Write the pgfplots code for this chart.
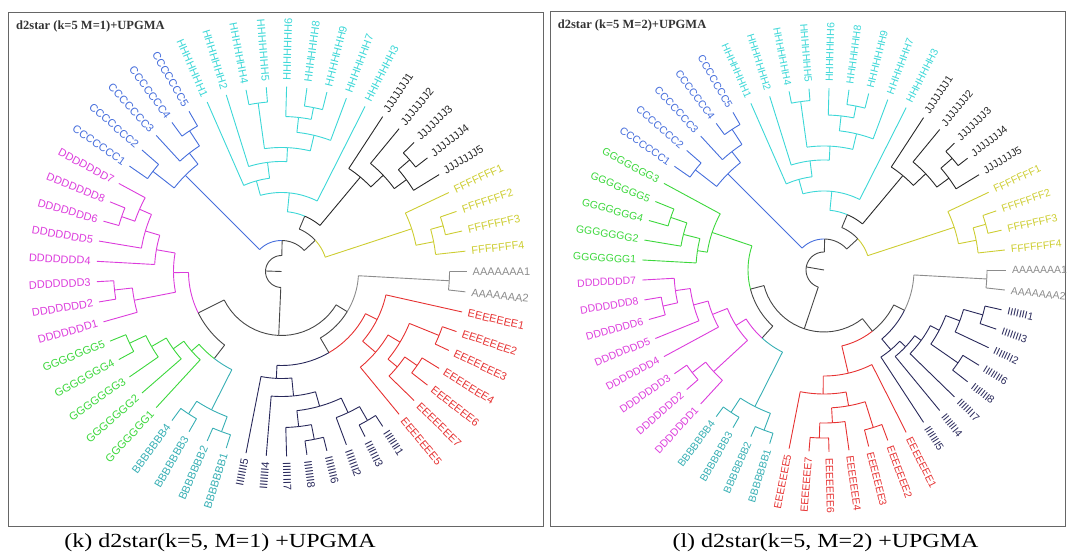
\documentclass[border=0pt]{standalone}
\usepackage{pgfplots}
\pgfplotsset{compat=1.18}
\usetikzlibrary{calc}
\usepackage{fontspec}
\setmainfont{Liberation Serif}
\newfontfamily\sansf{Liberation Sans}
\definecolor{cK}{RGB}{70,70,70}
\definecolor{cA}{RGB}{140,140,140}
\definecolor{cB}{RGB}{55,175,180}
\definecolor{cC}{RGB}{70,110,220}
\definecolor{cD}{RGB}{220,60,220}
\definecolor{cE}{RGB}{230,50,50}
\definecolor{cF}{RGB}{205,205,50}
\definecolor{cG}{RGB}{60,215,60}
\definecolor{cH}{RGB}{60,215,215}
\definecolor{cI}{RGB}{40,40,90}
\definecolor{cJ}{RGB}{40,40,40}
% branch: colour, child angle, node angle, node radius, child radius
\newcommand\br[5]{%
  \pgfmathsetmacro\amin{min(#2,#3)}%
  \pgfmathsetmacro\amax{max(#2,#3)}%
  \edef\tmp{\noexpand\addplot[#1,domain=\amin:\amax,samples=12] {#4};
    \noexpand\addplot[#1] coordinates {(#2,#4) (#2,#5)};}%
  \tmp}
% label: origin, angle, colour, text
\newcommand\lb[4]{%
  \pgfmathtruncatemacro\flip{(#2>90)&&(#2<270)}%
  \ifnum\flip=1
    \node[text=#3,rotate=#2-180,anchor=east,inner sep=0pt,font=\labfont] at ($(#1)+(#2:\LR pt)$) {#4};
  \else
    \node[text=#3,rotate=#2,anchor=west,inner sep=0pt,font=\labfont] at ($(#1)+(#2:\LR pt)$) {#4};
  \fi}
\newcommand\topsub{%
\br{cC}{135.0}{88.847}{31}{136}
\br{cK}{42.694}{88.847}{31}{46}
\br{cC}{142.105}{135.0}{136}{163}
\br{cC}{127.895}{135.0}{136}{150}
\br{cC}{145.263}{142.105}{163}{\RR}
\br{cC}{138.947}{142.105}{163}{\RR}
\br{cC}{132.632}{127.895}{150}{\RR}
\br{cC}{123.158}{127.895}{150}{168}
\br{cC}{126.316}{123.158}{168}{\RR}
\br{cC}{120.0}{123.158}{168}{\RR}
\br{cK}{67.229}{42.694}{46}{60}
\br{cF}{18.158}{42.694}{46}{137}
\br{cH}{84.326}{67.229}{60}{79}
\br{cJ}{50.132}{67.229}{60}{123}
\br{cH}{105.493}{84.326}{79}{94}
\br{cH}{63.158}{84.326}{79}{\RR}
\br{cH}{113.684}{105.493}{94}{\RR}
\br{cH}{97.303}{105.493}{94}{110}
\br{cH}{107.368}{97.303}{110}{\RR}
\br{cH}{87.237}{97.303}{110}{124}
\br{cH}{97.895}{87.237}{124}{170}
\br{cH}{76.579}{87.237}{124}{140}
\br{cH}{101.053}{97.895}{170}{\RR}
\br{cH}{94.737}{97.895}{170}{\RR}
\br{cH}{83.684}{76.579}{140}{155}
\br{cH}{69.474}{76.579}{140}{\RR}
\br{cH}{88.421}{83.684}{155}{\RR}
\br{cH}{78.947}{83.684}{155}{167}
\br{cH}{82.105}{78.947}{167}{\RR}
\br{cH}{75.789}{78.947}{167}{\RR}
\br{cJ}{56.842}{50.132}{123}{\RR}
\br{cJ}{43.421}{50.132}{123}{140}
\br{cJ}{50.526}{43.421}{140}{\RR}
\br{cJ}{36.316}{43.421}{140}{155}
\br{cJ}{41.053}{36.316}{155}{170}
\br{cJ}{31.579}{36.316}{155}{\RR}
\br{cJ}{44.211}{41.053}{170}{\RR}
\br{cJ}{37.895}{41.053}{170}{\RR}
\br{cF}{25.263}{18.158}{137}{\RR}
\br{cF}{11.053}{18.158}{137}{155}
\br{cF}{15.789}{11.053}{155}{168}
\br{cF}{6.316}{11.053}{155}{\RR}
\br{cF}{18.947}{15.789}{168}{\RR}
\br{cF}{12.632}{15.789}{168}{\RR}
\br{cB}{236.842}{243.158}{\rB}{170}
\br{cB}{249.474}{243.158}{\rB}{171}
\br{cB}{240.0}{236.842}{170}{\RR}
\br{cB}{233.684}{236.842}{170}{\RR}
\br{cB}{252.632}{249.474}{171}{\RR}
\br{cB}{246.316}{249.474}{171}{\RR}
}
\newcommand\toplabels[1]{%
\lb{#1}{145.263}{cC}{CCCCCCC1}\lb{#1}{138.947}{cC}{CCCCCCC2}\lb{#1}{132.632}{cC}{CCCCCCC3}
\lb{#1}{126.316}{cC}{CCCCCCC4}\lb{#1}{120.0}{cC}{CCCCCCC5}
\lb{#1}{113.684}{cH}{HHHHHHH1}\lb{#1}{107.368}{cH}{HHHHHHH2}\lb{#1}{101.053}{cH}{HHHHHHH4}
\lb{#1}{94.737}{cH}{HHHHHHH5}\lb{#1}{88.421}{cH}{HHHHHHH6}\lb{#1}{82.105}{cH}{HHHHHHH8}
\lb{#1}{75.789}{cH}{HHHHHHH9}\lb{#1}{69.474}{cH}{HHHHHHH7}\lb{#1}{63.158}{cH}{HHHHHHH3}
\lb{#1}{56.842}{cJ}{JJJJJJJ1}\lb{#1}{50.526}{cJ}{JJJJJJJ2}\lb{#1}{44.211}{cJ}{JJJJJJJ3}
\lb{#1}{37.895}{cJ}{JJJJJJJ4}\lb{#1}{31.579}{cJ}{JJJJJJJ5}
\lb{#1}{25.263}{cF}{FFFFFFF1}\lb{#1}{18.947}{cF}{FFFFFFF2}\lb{#1}{12.632}{cF}{FFFFFFF3}
\lb{#1}{6.316}{cF}{FFFFFFF4}
\lb{#1}{252.632}{cB}{BBBBBBB1}\lb{#1}{246.316}{cB}{BBBBBBB2}\lb{#1}{240.0}{cB}{BBBBBBB3}
\lb{#1}{233.684}{cB}{BBBBBBB4}
\lb{#1}{360}{cA}{AAAAAAA1}\lb{#1}{353.684}{cA}{AAAAAAA2}
}
\pgfplotsset{treeax/.style={anchor=south west, scale only axis, xtick=\empty, ytick=\empty,
  axis line style={black!60, line width=1pt}, data cs=polar, clip=false,
  every axis plot/.append style={line width=0.9pt, mark=none}}}
\begin{document}
\begin{tikzpicture}
\path (0,0) rectangle (1068pt,557pt);
% ---------------- left tree ----------------
\begin{axis}[treeax, at={(8.3pt,31pt)}, width=534.7pt, height=513.3pt,
  xmin=-273.2, xmax=261.5, ymin=-254.5, ymax=258.8]
\def\RR{185}\def\rB{155}
\addplot[cK] coordinates {(178.178,0) (178.178,16)};
\br{cK}{88.847}{178.178}{16}{31}
\br{cK}{267.508}{178.178}{16}{64}
\topsub
\br{cK}{206.447}{267.508}{64}{93}
\br{cK}{328.569}{267.508}{64}{77}
\br{cD}{180.592}{206.447}{93}{108}
\br{cK}{232.303}{206.447}{93}{110}
\br{cD}{170.132}{180.592}{108}{127}
\br{cD}{191.053}{180.592}{108}{150}
\br{cD}{176.842}{170.132}{127}{\RR}
\br{cD}{163.421}{170.132}{127}{142}
\br{cD}{170.526}{163.421}{142}{\RR}
\br{cD}{156.316}{163.421}{142}{155}
\br{cD}{151.579}{156.316}{155}{\RR}
\br{cD}{161.053}{156.316}{155}{169}
\br{cD}{164.211}{161.053}{169}{\RR}
\br{cD}{157.895}{161.053}{169}{\RR}
\br{cD}{195.789}{191.053}{150}{\RR}
\br{cD}{186.316}{191.053}{150}{168}
\br{cD}{189.474}{186.316}{168}{\RR}
\br{cD}{183.158}{186.316}{168}{\RR}
\br{cG}{221.447}{232.303}{110}{120}
\br{cB}{243.158}{232.303}{110}{155}
\br{cG}{227.368}{221.447}{120}{\RR}
\br{cG}{215.526}{221.447}{120}{133}
\br{cG}{221.053}{215.526}{133}{\RR}
\br{cG}{210.0}{215.526}{133}{150}
\br{cG}{214.737}{210.0}{150}{\RR}
\br{cG}{205.263}{210.0}{150}{168}
\br{cG}{208.421}{205.263}{168}{\RR}
\br{cG}{202.105}{205.263}{168}{\RR}
\br{cA}{356.842}{328.569}{77}{168}
\br{cK}{300.296}{328.569}{77}{94}
\br{cA}{360}{356.842}{168}{\RR}
\br{cA}{353.684}{356.842}{168}{\RR}
\br{cE}{333.355}{300.296}{94}{107}
\br{cI}{267.237}{300.296}{94}{107}
\br{cE}{347.368}{333.355}{107}{\RR}
\br{cE}{319.342}{333.355}{107}{124}
\br{cE}{309.474}{319.342}{124}{\RR}
\br{cE}{329.211}{319.342}{124}{138}
\br{cE}{337.895}{329.211}{138}{170}
\br{cE}{320.526}{329.211}{138}{150}
\br{cE}{341.053}{337.895}{170}{\RR}
\br{cE}{334.737}{337.895}{170}{\RR}
\br{cE}{325.263}{320.526}{150}{165}
\br{cE}{315.789}{320.526}{150}{\RR}
\br{cE}{328.421}{325.263}{165}{\RR}
\br{cE}{322.105}{325.263}{165}{\RR}
\br{cI}{258.947}{267.237}{107}{\RR}
\br{cI}{275.526}{267.237}{107}{125}
\br{cI}{265.263}{275.526}{125}{\RR}
\br{cI}{285.789}{275.526}{125}{140}
\br{cI}{276.316}{285.789}{140}{156}
\br{cI}{295.263}{285.789}{140}{156}
\br{cI}{271.579}{276.316}{156}{\RR}
\br{cI}{281.053}{276.316}{156}{171}
\br{cI}{284.211}{281.053}{171}{\RR}
\br{cI}{277.895}{281.053}{171}{\RR}
\br{cI}{290.526}{295.263}{156}{\RR}
\br{cI}{300.0}{295.263}{156}{172}
\br{cI}{303.158}{300.0}{172}{\RR}
\br{cI}{296.842}{300.0}{172}{\RR}
\coordinate (O1) at (axis cs:0,0);
\end{axis}
\def\LR{191}\def\labfont{\sansf\fontsize{11}{12}\selectfont}
\toplabels{O1}
\lb{O1}{347.368}{cE}{EEEEEEE1}\lb{O1}{341.053}{cE}{EEEEEEE2}\lb{O1}{334.737}{cE}{EEEEEEE3}
\lb{O1}{328.421}{cE}{EEEEEEE4}\lb{O1}{322.105}{cE}{EEEEEEE6}\lb{O1}{315.789}{cE}{EEEEEEE7}
\lb{O1}{309.474}{cE}{EEEEEEE5}
\lb{O1}{303.158}{cI}{IIIIIII1}\lb{O1}{296.842}{cI}{IIIIIII3}\lb{O1}{290.526}{cI}{IIIIIII2}
\lb{O1}{284.211}{cI}{IIIIIII6}\lb{O1}{277.895}{cI}{IIIIIII8}\lb{O1}{271.579}{cI}{IIIIIII7}
\lb{O1}{265.263}{cI}{IIIIIII4}\lb{O1}{258.947}{cI}{IIIIIII5}
\lb{O1}{227.368}{cG}{GGGGGGG1}\lb{O1}{221.053}{cG}{GGGGGGG2}\lb{O1}{214.737}{cG}{GGGGGGG3}
\lb{O1}{208.421}{cG}{GGGGGGG4}\lb{O1}{202.105}{cG}{GGGGGGG5}
\lb{O1}{195.789}{cD}{DDDDDDD1}\lb{O1}{189.474}{cD}{DDDDDDD2}\lb{O1}{183.158}{cD}{DDDDDDD3}
\lb{O1}{176.842}{cD}{DDDDDDD4}\lb{O1}{170.526}{cD}{DDDDDDD5}\lb{O1}{164.211}{cD}{DDDDDDD6}
\lb{O1}{157.895}{cD}{DDDDDDD8}\lb{O1}{151.579}{cD}{DDDDDDD7}
\node[anchor=west, font=\bfseries\fontsize{12.5}{14}\selectfont, text=black!80] at (12.7pt,530.3pt) {d2star (k=5 M=1)+UPGMA};
\node[font=\fontsize{20}{22}\selectfont, xscale=1.2] at (220pt,14pt) {(k) d2star(k=5, M=1) +UPGMA};
% ---------------- right tree ----------------
\begin{axis}[treeax, at={(550pt,30.5pt)}, width=515pt, height=514.8pt,
  xmin=-274, xmax=241, ymin=-256.5, ymax=258.3]
\def\RR{182}\def\rB{153}
\addplot[cK] coordinates {(170.141,0) (170.141,18)};
\br{cK}{88.847}{170.141}{18}{31}
\br{cK}{251.434}{170.141}{18}{62}
\topsub
\br{cK}{194.556}{251.434}{62}{76}
\br{cK}{308.313}{251.434}{62}{78}
\br{cK}{227.664}{194.556}{76}{92}
\br{cG}{161.447}{194.556}{76}{118}
\br{cD}{212.171}{227.664}{92}{104}
\br{cB}{243.158}{227.664}{92}{153}
\br{cD}{201.711}{212.171}{104}{120}
\br{cD}{222.632}{212.171}{104}{150}
\br{cD}{208.421}{201.711}{120}{\RR}
\br{cD}{195.0}{201.711}{120}{135}
\br{cD}{202.105}{195.0}{135}{\RR}
\br{cD}{187.895}{195.0}{135}{150}
\br{cD}{183.158}{187.895}{150}{\RR}
\br{cD}{192.632}{187.895}{150}{165}
\br{cD}{195.789}{192.632}{165}{\RR}
\br{cD}{189.474}{192.632}{165}{\RR}
\br{cD}{227.368}{222.632}{150}{\RR}
\br{cD}{217.895}{222.632}{150}{167}
\br{cD}{221.053}{217.895}{167}{\RR}
\br{cD}{214.737}{217.895}{167}{\RR}
\br{cG}{151.579}{161.447}{118}{\RR}
\br{cG}{171.316}{161.447}{118}{128}
\br{cG}{176.842}{171.316}{128}{\RR}
\br{cG}{165.789}{171.316}{128}{145}
\br{cG}{170.526}{165.789}{145}{\RR}
\br{cG}{161.053}{165.789}{145}{162}
\br{cG}{164.211}{161.053}{162}{\RR}
\br{cG}{157.895}{161.053}{162}{\RR}
\br{cK}{333.401}{308.313}{78}{90}
\br{cE}{283.224}{308.313}{78}{106}
\br{cA}{356.842}{333.401}{90}{163}
\br{cI}{309.961}{333.401}{90}{104}
\br{cA}{360}{356.842}{163}{\RR}
\br{cA}{353.684}{356.842}{163}{\RR}
\br{cI}{303.158}{309.961}{104}{\RR}
\br{cI}{316.776}{309.961}{104}{112}
\br{cI}{309.474}{316.776}{112}{\RR}
\br{cI}{324.079}{316.776}{112}{120}
\br{cI}{315.789}{324.079}{120}{\RR}
\br{cI}{332.368}{324.079}{120}{130}
\br{cI}{325.263}{332.368}{130}{163}
\br{cI}{339.474}{332.368}{130}{145}
\br{cI}{328.421}{325.263}{163}{\RR}
\br{cI}{322.105}{325.263}{163}{\RR}
\br{cI}{334.737}{339.474}{145}{\RR}
\br{cI}{344.211}{339.474}{145}{165}
\br{cI}{347.368}{344.211}{165}{\RR}
\br{cI}{341.053}{344.211}{165}{\RR}
\br{cE}{296.842}{283.224}{106}{\RR}
\br{cE}{269.605}{283.224}{106}{124}
\br{cE}{258.947}{269.605}{124}{\RR}
\br{cE}{280.263}{269.605}{124}{138}
\br{cE}{273.158}{280.263}{138}{153}
\br{cE}{287.368}{280.263}{138}{165}
\br{cE}{277.895}{273.158}{153}{\RR}
\br{cE}{268.421}{273.158}{153}{168}
\br{cE}{271.579}{268.421}{168}{\RR}
\br{cE}{265.263}{268.421}{168}{\RR}
\br{cE}{284.211}{287.368}{165}{\RR}
\br{cE}{290.526}{287.368}{165}{\RR}
\coordinate (O2) at (axis cs:0,0);
\end{axis}
\def\LR{188}\def\labfont{\sansf\fontsize{10.5}{12}\selectfont}
\toplabels{O2}
\lb{O2}{347.368}{cI}{IIIIIII1}\lb{O2}{341.053}{cI}{IIIIIII3}\lb{O2}{334.737}{cI}{IIIIIII2}
\lb{O2}{328.421}{cI}{IIIIIII6}\lb{O2}{322.105}{cI}{IIIIIII8}\lb{O2}{315.789}{cI}{IIIIIII7}
\lb{O2}{309.474}{cI}{IIIIIII4}\lb{O2}{303.158}{cI}{IIIIIII5}
\lb{O2}{296.842}{cE}{EEEEEEE1}\lb{O2}{290.526}{cE}{EEEEEEE2}\lb{O2}{284.211}{cE}{EEEEEEE3}
\lb{O2}{277.895}{cE}{EEEEEEE4}\lb{O2}{271.579}{cE}{EEEEEEE6}\lb{O2}{265.263}{cE}{EEEEEEE7}
\lb{O2}{258.947}{cE}{EEEEEEE5}
\lb{O2}{227.368}{cD}{DDDDDDD1}\lb{O2}{221.053}{cD}{DDDDDDD2}\lb{O2}{214.737}{cD}{DDDDDDD3}
\lb{O2}{208.421}{cD}{DDDDDDD4}\lb{O2}{202.105}{cD}{DDDDDDD5}\lb{O2}{195.789}{cD}{DDDDDDD6}
\lb{O2}{189.474}{cD}{DDDDDDD8}\lb{O2}{183.158}{cD}{DDDDDDD7}
\lb{O2}{176.842}{cG}{GGGGGGG1}\lb{O2}{170.526}{cG}{GGGGGGG2}\lb{O2}{164.211}{cG}{GGGGGGG4}
\lb{O2}{157.895}{cG}{GGGGGGG5}\lb{O2}{151.579}{cG}{GGGGGGG3}
\node[anchor=west, font=\bfseries\fontsize{12.5}{14}\selectfont, text=black!80] at (554.3pt,532pt) {d2star (k=5 M=2)+UPGMA};
\node[font=\fontsize{20}{22}\selectfont, xscale=1.2] at (825.5pt,14pt) {(l) d2star(k=5, M=2) +UPGMA};
\end{tikzpicture}
\end{document}
